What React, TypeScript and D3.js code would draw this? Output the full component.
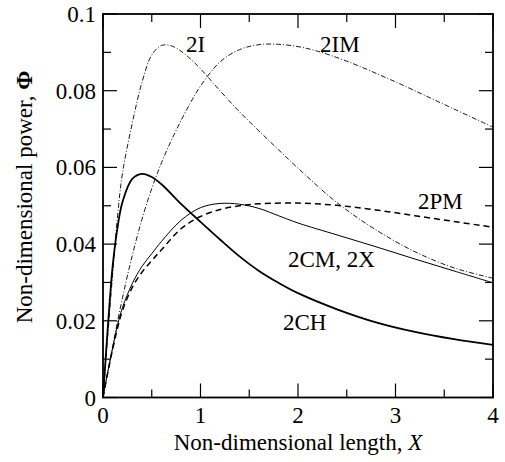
import React from "react";
import * as d3 from "d3";

const xTicks = [0, 1, 2, 3, 4];
const xTickLabels = ["0", "1", "2", "3", "4"];
const yTicks = [0, 0.02, 0.04, 0.06, 0.08, 0.1];
const yTickLabels = ["0", "0.02", "0.04", "0.06", "0.08", "0.1"];

const x2CH = [0, 0.05, 0.1, 0.15, 0.2, 0.3, 0.4, 0.5, 0.6, 0.8, 1.0, 1.2, 1.4, 1.6, 1.8, 2.0, 2.4, 2.8, 3.2, 3.6, 4.0];
const y2CH = [0, 0.0185, 0.0345, 0.0445, 0.051, 0.057, 0.0583, 0.0575, 0.0556, 0.0505, 0.0458, 0.0412, 0.0368, 0.033, 0.0299, 0.0272, 0.023, 0.0196, 0.0171, 0.0152, 0.0137];

const x2CM = [0, 0.05, 0.1, 0.15, 0.2, 0.3, 0.4, 0.5, 0.6, 0.8, 1.0, 1.2, 1.4, 1.6, 1.8, 2.0, 2.4, 2.8, 3.2, 3.6, 4.0];
const y2CM = [0, 0.0068, 0.013, 0.019, 0.0235, 0.0297, 0.0342, 0.0375, 0.0407, 0.0462, 0.0495, 0.0506, 0.0504, 0.0493, 0.0474, 0.0455, 0.0424, 0.0393, 0.0361, 0.033, 0.0299];

const x2PM = [0, 0.05, 0.1, 0.15, 0.2, 0.3, 0.4, 0.5, 0.6, 0.8, 1.0, 1.2, 1.4, 1.6, 2.0, 2.4, 2.8, 3.2, 3.6, 4.0];
const y2PM = [0, 0.0066, 0.0127, 0.0182, 0.0227, 0.0287, 0.0327, 0.0357, 0.0385, 0.044, 0.0472, 0.049, 0.05, 0.0505, 0.0507, 0.0501, 0.0489, 0.0474, 0.0459, 0.0444];

const x2I = [0, 0.05, 0.1, 0.15, 0.2, 0.3, 0.4, 0.5, 0.6, 0.7, 0.8, 0.9, 1.0, 1.2, 1.4, 1.6, 1.8, 2.0, 2.4, 2.8, 3.2, 3.6, 4.0];
const y2I = [0, 0.0165, 0.0325, 0.0475, 0.0585, 0.0715, 0.0822, 0.0893, 0.0918, 0.0917, 0.0903, 0.0882, 0.0857, 0.0800, 0.0745, 0.0695, 0.0646, 0.0598, 0.0508, 0.0437, 0.038, 0.0338, 0.0311];

const x2IM = [0, 0.1, 0.2, 0.3, 0.4, 0.5, 0.6, 0.7, 0.8, 0.9, 1.0, 1.2, 1.4, 1.6, 1.8, 2.0, 2.2, 2.5, 3.0, 3.5, 4.0];
const y2IM = [0, 0.0135, 0.026, 0.037, 0.0465, 0.0545, 0.0612, 0.067, 0.0722, 0.077, 0.0812, 0.0875, 0.0907, 0.092, 0.0921, 0.0915, 0.0903, 0.0877, 0.0823, 0.0764, 0.0705];

const seriesNames = ["2CH", "2CM, 2X", "2PM", "2I", "2IM"];

const W = 505;
const H = 462;
const left = 103;
const right = 493;
const top = 14;
const bottom = 397.5;
const FONT = "'Liberation Serif', 'Times New Roman', serif";

export default function App() {
  const x = d3.scaleLinear().domain([0, 4]).range([left, right]);
  const y = d3.scaleLinear().domain([0, 0.1]).range([bottom, top]);
  const line = d3
    .line<[number, number]>()
    .x((d) => x(d[0]))
    .y((d) => y(d[1]))
    .curve(d3.curveCatmullRom.alpha(0.5));
  const zip = (a: number[], b: number[]) => a.map((v, i) => [v, b[i]] as [number, number]);

  const series = [
    { name: seriesNames[0], d: zip(x2CH, y2CH), w: 1.8, dash: "none" },
    { name: seriesNames[1], d: zip(x2CM, y2CM), w: 1.0, dash: "none" },
    { name: seriesNames[2], d: zip(x2PM, y2PM), w: 1.5, dash: "6,4" },
    { name: seriesNames[3], d: zip(x2I, y2I), w: 0.9, dash: "5,2,1,2" },
    { name: seriesNames[4], d: zip(x2IM, y2IM), w: 0.9, dash: "5,2,1,2" },
  ];

  const xMinor = d3.range(0, 4.001, 0.5);
  const yMinor = d3.range(0, 0.1001, 0.01);
  const isMajorX = (v: number) => Math.abs(v - Math.round(v)) < 1e-6;
  const isMajorY = (v: number) => Math.abs(v * 50 - Math.round(v * 50)) < 1e-6;
  const MAJ = 14;
  const MIN = 8;

  const labels = [
    { t: "2I", x: 186, y: 52 },
    { t: "2IM", x: 320, y: 52 },
    { t: "2PM", x: 418, y: 209 },
    { t: "2CM, 2X", x: 288, y: 267 },
    { t: "2CH", x: 283, y: 330 },
  ];

  return (
    <svg width={W} height={H} style={{ display: "block", position: "absolute", left: 0, top: 0 }}>
      <rect width={W} height={H} fill="#fff" />
      <defs>
        <clipPath id="plot">
          <rect x={left} y={top} width={right - left} height={bottom - top} />
        </clipPath>
      </defs>
      <g clipPath="url(#plot)">
        {series.map((s) => (
          <path
            key={s.name}
            d={line(s.d) || ""}
            fill="none"
            stroke="#000"
            strokeWidth={s.w}
            strokeDasharray={s.dash}
          />
        ))}
      </g>
      <g stroke="#000" strokeWidth={1.2}>
        {xMinor.map((v) => {
          const len = isMajorX(v) ? MAJ : MIN;
          return (
            <g key={"x" + v}>
              <line x1={x(v)} x2={x(v)} y1={bottom} y2={bottom - len} />
              <line x1={x(v)} x2={x(v)} y1={top} y2={top + len} />
            </g>
          );
        })}
        {yMinor.map((v) => {
          const len = isMajorY(v) ? MAJ : MIN;
          return (
            <g key={"y" + v}>
              <line x1={left} x2={left + len} y1={y(v)} y2={y(v)} />
              <line x1={right} x2={right - len} y1={y(v)} y2={y(v)} />
            </g>
          );
        })}
      </g>
      <rect x={left} y={top} width={right - left} height={bottom - top} fill="none" stroke="#000" strokeWidth={1.8} />
      <g fontFamily={FONT} fontSize={23} fill="#000">
        {xTicks.map((v, i) => (
          <text key={"xt" + v} x={x(v)} y={422.5} textAnchor="middle">
            {xTickLabels[i]}
          </text>
        ))}
        {yTicks.map((v, i) => (
          <text key={"yt" + v} x={96} y={y(v) + 8} textAnchor="end">
            {yTickLabels[i]}
          </text>
        ))}
        {labels.map((l) => (
          <text key={l.t} x={l.x} y={l.y} fontSize={23}>
            {l.t}
          </text>
        ))}
      </g>
      <text x={298} y={450} textAnchor="middle" fontFamily={FONT} fontSize={23}>
        Non-dimensional length, <tspan fontStyle="italic">X</tspan>
      </text>
      <text
        transform={`translate(32, 197) rotate(-90)`}
        textAnchor="middle"
        fontFamily={FONT}
        fontSize={23}
      >
        Non-dimensional power, <tspan fontWeight="bold">Φ</tspan>
      </text>
    </svg>
  );
}
